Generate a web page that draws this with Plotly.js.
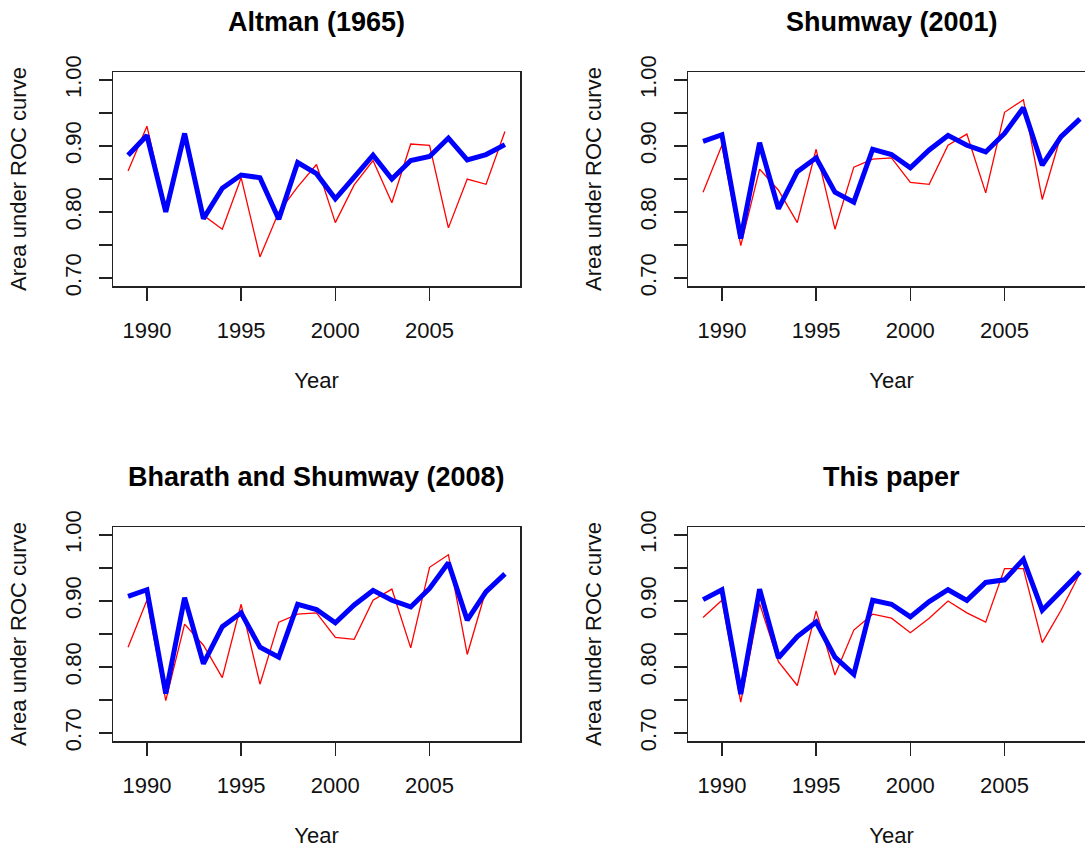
<!DOCTYPE html>
<html>
<head>
<meta charset="utf-8">
<script src="https://cdn.plot.ly/plotly-3.0.1.min.js"></script>
<style>
html, body { margin: 0; padding: 0; overflow: hidden; background: #ffffff; }
#chart { width: 1150px; height: 910px; }
</style>
</head>
<body>
<div id="chart"></div>
<script>
// ---- data ----
const years = [1989,1990,1991,1992,1993,1994,1995,1996,1997,1998,1999,2000,2001,2002,2003,2004,2005,2006,2007,2008,2009];

const panelTitles = ["Altman (1965)", "Shumway (2001)", "Bharath and Shumway (2008)", "This paper"];

const altmanBlue = [0.886,0.916,0.800,0.919,0.790,0.836,0.856,0.852,0.789,0.875,0.858,0.820,0.853,0.886,0.850,0.878,0.884,0.912,0.879,0.887,0.902];
const altmanRed  = [0.862,0.930,0.805,0.915,0.795,0.774,0.852,0.732,0.800,0.838,0.872,0.784,0.841,0.878,0.814,0.903,0.901,0.776,0.850,0.842,0.922];

const shumwayBlue = [0.907,0.917,0.760,0.905,0.805,0.861,0.882,0.830,0.815,0.895,0.887,0.867,0.894,0.916,0.901,0.891,0.919,0.958,0.871,0.914,0.941];
const shumwayRed  = [0.830,0.901,0.749,0.865,0.833,0.784,0.895,0.774,0.868,0.880,0.882,0.845,0.842,0.901,0.918,0.829,0.951,0.970,0.819,0.917,0.940];

const bharathBlue = [0.907,0.917,0.760,0.905,0.805,0.861,0.882,0.830,0.815,0.895,0.887,0.867,0.894,0.916,0.901,0.891,0.919,0.958,0.871,0.914,0.941];
const bharathRed  = [0.830,0.901,0.749,0.865,0.833,0.784,0.895,0.774,0.868,0.880,0.882,0.845,0.842,0.901,0.918,0.829,0.951,0.970,0.819,0.917,0.940];

const paperBlue = [0.902,0.917,0.759,0.918,0.814,0.846,0.868,0.815,0.789,0.901,0.895,0.876,0.899,0.917,0.901,0.928,0.932,0.963,0.886,0.914,0.944];
const paperRed  = [0.875,0.901,0.747,0.896,0.808,0.772,0.885,0.788,0.856,0.880,0.874,0.852,0.874,0.900,0.882,0.868,0.949,0.949,0.837,0.886,0.942];

const xTickVals = [1990, 1995, 2000, 2005];
const xTickText = ["1990", "1995", "2000", "2005"];
const yTickVals = [0.70, 0.75, 0.80, 0.85, 0.90, 0.95, 1.00];
const yTickText = ["0.70", "", "0.80", "", "0.90", "", "1.00"];
const xTitle = "Year";
const yTitle = "Area under ROC curve";

// ---- figure geometry (the R figure is larger than the window and is clipped) ----
const W = 1150, H = 910;
const xDomains = [[113/W, 520/W], [688/W, 1095/W]];
const yDomains = [[1 - 286/H, 1 - 72/H], [1 - 741/H, 1 - 527/H]];

const blues = [altmanBlue, shumwayBlue, bharathBlue, paperBlue];
const reds  = [altmanRed, shumwayRed, bharathRed, paperRed];

const FONT = "Liberation Sans, Arial, Helvetica, sans-serif";
const traces = [];
const layout = {
  width: W, height: H,
  margin: {l: 0, r: 0, t: 0, b: 0, pad: 0},
  paper_bgcolor: "#ffffff", plot_bgcolor: "#ffffff",
  showlegend: false,
  font: {family: FONT, color: "#000000", size: 22},
  annotations: []
};

for (let i = 0; i < 4; i++) {
  const col = i % 2, row = Math.floor(i / 2);
  const n = i + 1;
  const xa = n === 1 ? "x" : "x" + n;
  const ya = n === 1 ? "y" : "y" + n;
  traces.push({x: years, y: reds[i], xaxis: xa, yaxis: ya, type: "scatter", mode: "lines",
               line: {color: "#ff0000", width: 1.3}, hoverinfo: "skip"});
  traces.push({x: years, y: blues[i], xaxis: xa, yaxis: ya, type: "scatter", mode: "lines",
               line: {color: "#0000ff", width: 5}, hoverinfo: "skip"});
  const xk = n === 1 ? "xaxis" : "xaxis" + n;
  const yk = n === 1 ? "yaxis" : "yaxis" + n;
  layout[xk] = {
    domain: xDomains[col], anchor: ya, range: [1988.2, 2009.8],
    tickmode: "array", tickvals: xTickVals, ticktext: xTickText,
    ticks: "outside", ticklen: 13, tickwidth: 1.3, tickcolor: "#222",
    ticklabelstandoff: 11,
    showline: true, mirror: true, linecolor: "#222", linewidth: 1.5,
    showgrid: false, zeroline: false, fixedrange: true,
    tickfont: {family: FONT, size: 22, color: "#111"},
    title: {text: xTitle, standoff: 30, font: {family: FONT, size: 22, color: "#111"}}
  };
  layout[yk] = {
    domain: yDomains[row], anchor: xa, range: [0.688, 1.012],
    tickmode: "array", tickvals: yTickVals, ticktext: yTickText,
    ticks: "outside", ticklen: 13, tickwidth: 1.3, tickcolor: "#222",
    tickangle: -90, ticklabelstandoff: 9,
    showline: true, mirror: true, linecolor: "#222", linewidth: 1.5,
    showgrid: false, zeroline: false, fixedrange: true,
    tickfont: {family: FONT, size: 22, color: "#111"},
    title: {text: yTitle, standoff: 28, font: {family: FONT, size: 22, color: "#111"}}
  };
  layout.annotations.push({
    text: "<b>" + panelTitles[i] + "</b>",
    xref: "paper", yref: "paper",
    x: (xDomains[col][0] + xDomains[col][1]) / 2,
    y: 1 - (22 + row * 455) / H,
    xanchor: "center", yanchor: "middle", showarrow: false,
    font: {family: FONT, size: 27, color: "#000"}
  });
}

Plotly.newPlot("chart", traces, layout, {displayModeBar: false, staticPlot: true});
</script>
</body>
</html>
